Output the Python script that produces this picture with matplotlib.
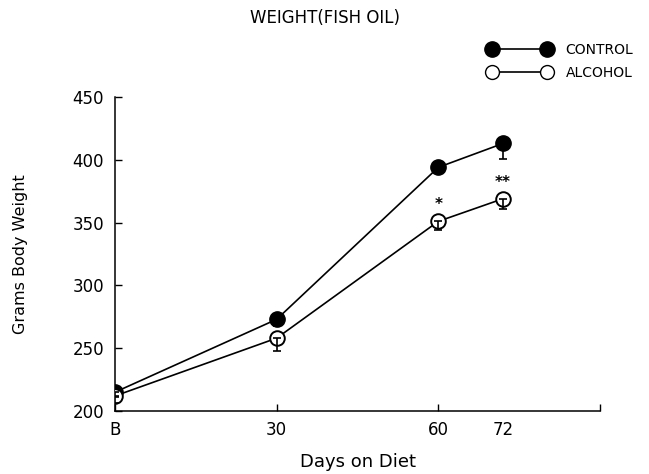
import matplotlib
matplotlib.use('Agg')
import matplotlib.pyplot as plt
from matplotlib.lines import Line2D

# data
days = [0, 30, 60, 72]
day_labels = ['B', '30', '60', '72']
control = [215, 273, 394, 413]
control_err = [4, 5, 3, 12]
alcohol = [212, 258, 351, 369]
alcohol_err = [6, 10, 7, 8]
signif = ['', '', '*', '**']

plt.rcParams['font.family'] = 'DejaVu Sans'

fig = plt.figure(figsize=(6.49, 4.74), dpi=100)
ax = fig.add_axes([0.1772, 0.1329, 0.7473, 0.6625])

ax.plot(days, control, '-', color='black', lw=1.2, zorder=2)
ax.plot(days, alcohol, '-', color='black', lw=1.2, zorder=2)
ax.plot(days, control, 'o', ms=11, mfc='black', mec='black', zorder=3)
ax.plot(days, alcohol, 'o', ms=10.5, mfc='white', mec='black', mew=1.4, zorder=3)

# lower-half error bars only
ax.errorbar(days, control, yerr=[control_err, [0] * 4], fmt='none',
            ecolor='black', elinewidth=1.2, capsize=3, capthick=1.2, zorder=4)
ax.errorbar(days, alcohol, yerr=[alcohol_err, [0] * 4], fmt='none',
            ecolor='black', elinewidth=1.2, capsize=3, capthick=1.2, zorder=4)

for d, a, s in zip(days, alcohol, signif):
    if s:
        ax.annotate(s, (d, a), xytext=(0, 12), textcoords='offset points',
                    ha='center', va='center', fontsize=11, fontweight='bold')

ax.set_xlim(0, 90)
ax.set_ylim(200, 450)
ax.set_xticks(days + [90], labels=day_labels + [''])
ax.tick_params(axis='x', direction='in', length=5, width=1, pad=7, labelsize=12)
ax.xaxis.get_major_ticks()[3].tick1line.set_visible(False)
ax.set_yticks([200, 250, 300, 350, 400, 450])
ax.tick_params(axis='y', direction='in', length=5, width=1, labelsize=12, pad=8)

for side in ['top', 'right']:
    ax.spines[side].set_visible(False)
for side in ['left', 'bottom']:
    ax.spines[side].set_linewidth(1.1)

ax.set_xlabel('Days on Diet', fontsize=13, labelpad=10)
ax.set_ylabel('Grams Body Weight', fontsize=11.5, labelpad=32)

fig.text(0.5, 0.962, 'WEIGHT(FISH OIL)', ha='center', va='center', fontsize=12)

handles = [
    Line2D([], [], color='black', lw=1.2, marker='o', ms=11, mfc='black', mec='black'),
    Line2D([], [], color='black', lw=1.2, marker='o', ms=10, mfc='white', mec='black'),
]
fig.legend(handles, ['CONTROL', 'ALCOHOL'], loc='upper right',
           bbox_to_anchor=(0.995, 0.935), numpoints=2, frameon=False,
           fontsize=10, handlelength=4.6, handletextpad=1.0, labelspacing=0.6)

fig.savefig('out.png', dpi=100)
